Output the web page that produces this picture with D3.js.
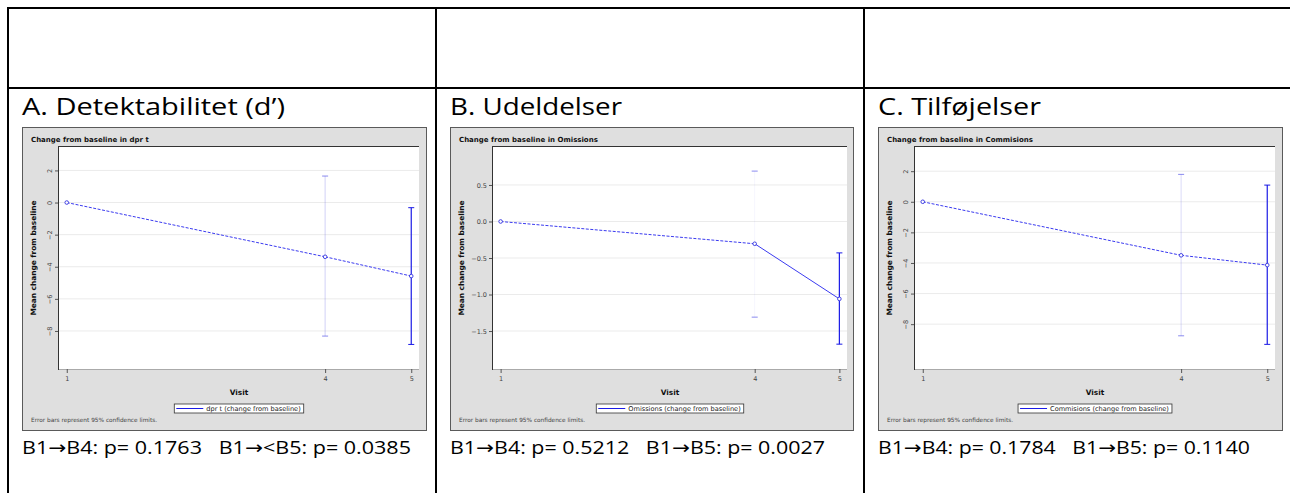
<!DOCTYPE html>
<html>
<head>
<meta charset="utf-8">
<script src="https://cdnjs.cloudflare.com/ajax/libs/d3/7.8.5/d3.min.js"></script>
<style>
  body { margin: 0; background: #fff; }
  svg { display: block; }
</style>
</head>
<body>
<svg id="chart"></svg>
<script>
// values
let visits = [1, 4, 5]

let dprMean  = [0, -3.38, -4.58]
let dprLower = [0, -8.32, -8.84]
let dprUpper = [0,  1.65, -0.32]
let dprTicks = [2, 0, -2, -4, -6, -8]

let omMean  = [0, -0.305, -1.06]
let omLower = [0, -1.31, -1.68]
let omUpper = [0,  0.69, -0.43]
let omTicks = [0.5, 0, -0.5, -1.0, -1.5]

let comMean  = [0, -3.50, -4.14]
let comLower = [0, -8.76, -9.32]
let comUpper = [0,  1.79,  1.09]
let comTicks = [2, 0, -2, -4, -6, -8]

let headers = ["A. Detektabilitet (d\u2019)", "B. Udeldelser", "C. Tilføjelser"]
let titles = ["Change from baseline in dpr t", "Change from baseline in Omissions", "Change from baseline in Commisions"]
let legends = ["dpr t (change from baseline)", "Omissions (change from baseline)", "Commisions (change from baseline)"]
let pTexts = ["B1\u2192B4: p= 0.1763   B1\u2192<B5: p= 0.0385",
              "B1\u2192B4: p= 0.5212   B1\u2192B5: p= 0.0027",
              "B1\u2192B4: p= 0.1784   B1\u2192B5: p= 0.1140"]

let width = 1290
let height = 493

let svg = d3.select('#chart')
    .attr('width', width)
    .attr('height', height)

// table lines of the word document
let drawTable = () => {
    let g = svg.append('g').attr('stroke', '#000').attr('stroke-width', 2)
    g.append('line').attr('x1', 7).attr('x2', width).attr('y1', 8).attr('y2', 8)
    g.append('line').attr('x1', 7).attr('x2', width).attr('y1', 88).attr('y2', 88)
    ;[8, 436, 864].forEach(x => {
        g.append('line').attr('x1', x).attr('x2', x).attr('y1', 7).attr('y2', height)
    })
}

let panels = [
    {mean: dprMean, lower: dprLower, upper: dprUpper, ticks: dprTicks, fmt: d3.format('d'),
     yDomain: [-10.37, 3.46], box: [22, 127, 426, 430], plot: [59, 147, 419, 369],
     headW: 263, pW: 389, rotate: true, faint: 0.3, solid2: false},
    {mean: omMean, lower: omLower, upper: omUpper, ticks: omTicks, fmt: d3.format('.1f'),
     yDomain: [-2.02, 1.02], box: [450, 127, 853, 430], plot: [493, 147, 847, 369],
     headW: 172, pW: 375, rotate: false, faint: 0.06, solid2: true},
    {mean: comMean, lower: comLower, upper: comUpper, ticks: comTicks, fmt: d3.format('d'),
     yDomain: [-10.93, 3.58], box: [878, 127, 1282, 430], plot: [915, 147, 1275, 369],
     headW: 163, pW: 372, rotate: true, faint: 0.24, solid2: false}
]

let drawPanel = (p, i) => {
    let [bx0, by0, bx1, by1] = p.box
    let [px0, py0, px1, py1] = p.plot
    let g = svg.append('g')

    // header and p-values in the table cell
    g.append('text')
        .attr('x', bx0).attr('y', 115)
        .attr('font-family', 'Open Sans, sans-serif').attr('font-size', 23)
        .attr('textLength', p.headW).attr('lengthAdjust', 'spacingAndGlyphs')
        .text(headers[i])

    let pt = g.append('text')
        .attr('x', bx0).attr('y', 454)
        .attr('font-family', 'Open Sans, sans-serif').attr('font-size', 18.5)
        .attr('textLength', p.pW).attr('lengthAdjust', 'spacingAndGlyphs')
        .style('white-space', 'pre')
    pTexts[i].split('\u2192').forEach((part, k) => {
        if (k > 0) {
            pt.append('tspan')
                .attr('font-family', 'DejaVu Sans, sans-serif')
                .text('\u2192')
        }
        pt.append('tspan').text(part)
    })

    // gray frame of the SAS graph
    g.append('rect')
        .attr('x', bx0 + 0.5).attr('y', by0 + 0.5)
        .attr('width', bx1 - bx0).attr('height', by1 - by0)
        .attr('fill', '#dfdfdf').attr('stroke', '#5a5a5a')

    g.append('text')
        .attr('x', bx0 + 9).attr('y', by0 + 15)
        .attr('font-family', 'DejaVu Sans, sans-serif').attr('font-weight', 'bold')
        .attr('font-size', 7).attr('fill', '#111')
        .text(titles[i])

    g.append('rect')
        .attr('x', px0).attr('y', py0)
        .attr('width', px1 - px0).attr('height', py1 - py0)
        .attr('fill', '#fff')

    let xScale = d3.scaleLinear().domain([0.91, 5.09]).range([px0, px1])
    let yScale = d3.scaleLinear().domain(p.yDomain).range([py1, py0])

    // grid
    g.append('g').selectAll('line')
        .data(p.ticks)
        .enter()
        .append('line')
        .attr('x1', px0).attr('x2', px1)
        .attr('y1', d => yScale(d)).attr('y2', d => yScale(d))
        .attr('stroke', '#ebebeb').attr('stroke-width', 1)

    // axes
    let yAxis = d3.axisLeft(yScale).tickValues(p.ticks).tickFormat(p.fmt).tickSize(4).tickSizeOuter(0)
    let ya = g.append('g')
        .attr('transform', 'translate(' + px0 + ',0)')
        .call(yAxis)
    ya.select('.domain').remove()
    ya.selectAll('line').attr('stroke', '#555')
    ya.selectAll('text')
        .attr('font-family', 'DejaVu Sans, sans-serif').attr('font-size', 6.5).attr('fill', '#444')
    if (p.rotate) {
        ya.selectAll('text')
            .attr('transform', 'rotate(-90)')
            .attr('text-anchor', 'middle')
            .attr('x', 0).attr('y', -7).attr('dy', 0)
    } else {
        ya.selectAll('text').attr('x', -6)
    }

    let xAxis = d3.axisBottom(xScale).tickValues(visits).tickFormat(d3.format('d')).tickSize(4).tickSizeOuter(0)
    let xa = g.append('g')
        .attr('transform', 'translate(0,' + py1 + ')')
        .call(xAxis)
    xa.select('.domain').attr('stroke', '#aaa').attr('d', 'M' + px0 + ',0.5H' + px1)
    xa.selectAll('line').attr('stroke', '#555')
    xa.selectAll('text')
        .attr('font-family', 'DejaVu Sans, sans-serif').attr('font-size', 6.5).attr('fill', '#444')
        .attr('y', 7)

    g.append('line')
        .attr('x1', px0).attr('x2', px1).attr('y1', py0 - 0.5).attr('y2', py0 - 0.5)
        .attr('stroke', '#333')
    g.append('line')
        .attr('x1', px0 - 0.5).attr('x2', px0 - 0.5).attr('y1', py0 - 1).attr('y2', py1 + 1)
        .attr('stroke', '#333')

    g.append('text')
        .attr('transform', 'translate(' + (bx0 + 14) + ',' + ((py0 + py1) / 2) + ') rotate(-90)')
        .attr('text-anchor', 'middle')
        .attr('font-family', 'DejaVu Sans, sans-serif').attr('font-weight', 'bold')
        .attr('font-size', 7.4).attr('fill', '#111')
        .text('Mean change from baseline')

    g.append('text')
        .attr('x', (px0 + px1) / 2).attr('y', 395)
        .attr('text-anchor', 'middle')
        .attr('font-family', 'DejaVu Sans, sans-serif').attr('font-weight', 'bold')
        .attr('font-size', 7.4).attr('fill', '#111')
        .text('Visit')

    // error bars
    let bars = visits.map((v, k) => ({v: v, lo: p.lower[k], hi: p.upper[k], k: k})).filter(d => d.k > 0)
    let eb = g.append('g')
    bars.forEach(d => {
        let x = xScale(d.v)
        let strong = d.k === 2
        eb.append('line')
            .attr('x1', x).attr('x2', x)
            .attr('y1', yScale(d.hi)).attr('y2', yScale(d.lo))
            .attr('stroke', strong ? '#1a1ae6' : '#6a6ae8')
            .attr('stroke-opacity', strong ? 1 : p.faint)
            .attr('stroke-width', strong ? 1.2 : 1)
        ;[d.hi, d.lo].forEach(val => {
            eb.append('line')
                .attr('x1', x - 3).attr('x2', x + 3)
                .attr('y1', yScale(val)).attr('y2', yScale(val))
                .attr('stroke', strong ? '#1a1ae6' : '#5a5ae8')
                .attr('stroke-opacity', strong ? 1 : 0.7)
        })
    })

    // mean line
    let pts = visits.map((v, k) => [v, p.mean[k]])
    let line = d3.line().x(d => xScale(d[0])).y(d => yScale(d[1]))
    g.append('path')
        .attr('d', line(pts.slice(0, 2)))
        .attr('fill', 'none').attr('stroke', '#3b3bf0').attr('stroke-width', 1)
        .attr('stroke-dasharray', '3,1.5')
    g.append('path')
        .attr('d', line(pts.slice(1, 3)))
        .attr('fill', 'none').attr('stroke', '#3b3bf0').attr('stroke-width', 1)
        .attr('stroke-dasharray', p.solid2 ? null : '3,1.5')

    g.append('g').selectAll('circle')
        .data(pts)
        .enter()
        .append('circle')
        .attr('cx', d => xScale(d[0]))
        .attr('cy', d => yScale(d[1]))
        .attr('r', 1.8)
        .attr('fill', '#fff')
        .attr('stroke', '#3030e0').attr('stroke-width', 0.9)

    // legend
    let cx = (px0 + px1) / 2
    let lg = g.append('g')
    let lt = lg.append('text')
        .attr('y', 411)
        .attr('font-family', 'DejaVu Sans, sans-serif').attr('font-size', 6.6).attr('fill', '#222')
        .text(legends[i])
    let tw = lt.node().getComputedTextLength()
    let lw = 2 + 27 + 3 + tw + 3
    let lx = cx - lw / 2
    lg.insert('rect', 'text')
        .attr('x', lx).attr('y', 404).attr('width', lw).attr('height', 9)
        .attr('fill', '#fff').attr('stroke', '#333').attr('stroke-width', 0.8)
    lg.append('line')
        .attr('x1', lx + 2).attr('x2', lx + 29).attr('y1', 408.5).attr('y2', 408.5)
        .attr('stroke', '#1a1ae6').attr('stroke-width', 1)
    lt.attr('x', lx + 32)

    g.append('text')
        .attr('x', bx0 + 9).attr('y', 422)
        .attr('font-family', 'DejaVu Sans, sans-serif').attr('font-size', 5.8).attr('fill', '#444')
        .text('Error bars represent 95% confidence limits.')
}

drawTable()
panels.forEach(drawPanel)
</script>
</body>
</html>
